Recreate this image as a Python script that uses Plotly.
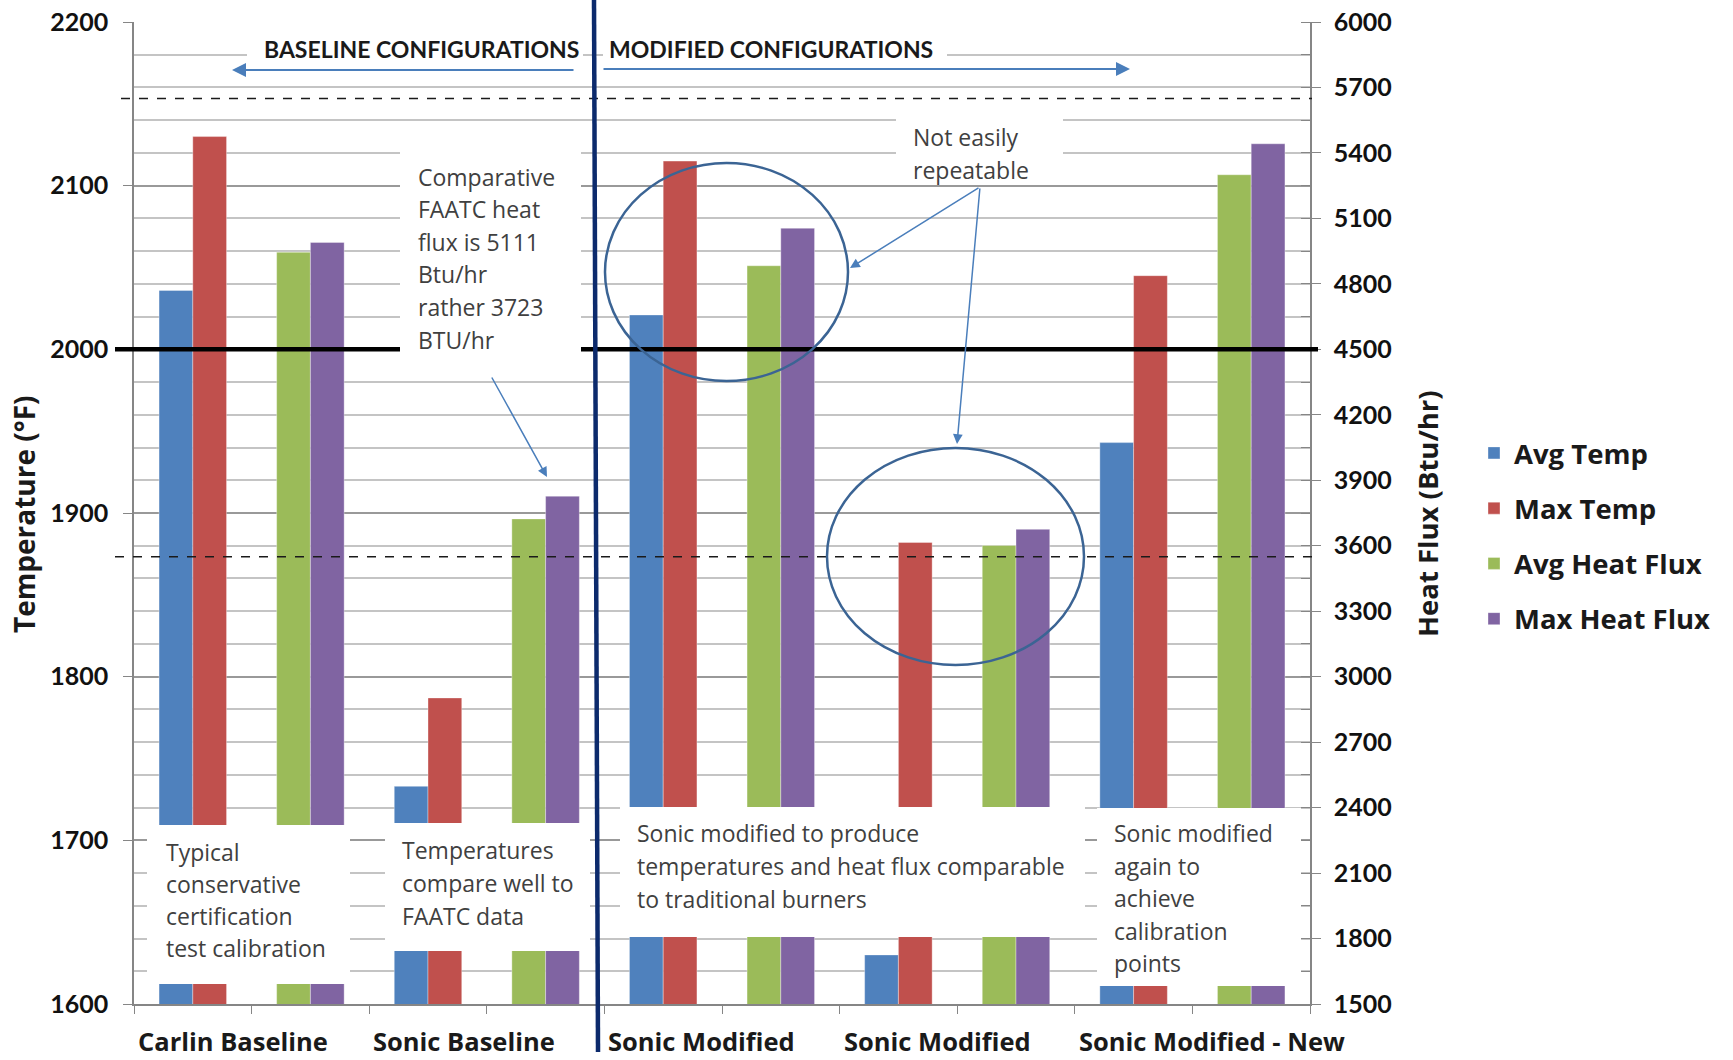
import plotly.graph_objects as go

# ---------------------------------------------------------------- data
categories = ["Carlin Baseline", "Sonic Baseline", "Sonic Modified",
              "Sonic Modified", "Sonic Modified - New"]
avg_temp = [2036, 1733, 2021, 1630, 1943]          # °F
max_temp = [2130, 1787, 2115, 1882, 2045]          # °F
avg_heat_flux = [4945, 3723, 4883, 3601, 5300]     # Btu/hr
max_heat_flux = [4990, 3827, 5055, 3675, 5442]     # Btu/hr

series_names = ["Avg Temp", "Max Temp", "Avg Heat Flux", "Max Heat Flux"]
series_colors = ["#4F81BD", "#C0504D", "#9BBB59", "#8064A2"]

temp_range = [1600, 2200]
flux_range = [1500, 6000]
temp_target = 2000                 # solid black reference line
flux_limits = [3550, 5650]         # dashed reference lines

# ---------------------------------------------------------------- geometry
W, H = 1733, 1060
PL, PR, PT, PB = 134, 1310, 22, 1004   # plot area in pixels
BAR_W = 0.287
FONT = "Lato"
BODY_FONT = "Open Sans"
TEXT_GREY = "#404040"
INK = "#1a1a1a"
ARROW_BLUE = "#4A7EBB"
RING_BLUE = "#3B6494"
NAVY = "#0C2A6C"


def fx(px):
    return (px - PL) / (PR - PL)


def fy(py):
    return (PB - py) / (PB - PT)


n = len(categories)
temp_x = [2 * k for k in range(n)]
flux_x = [2 * k + 1 for k in range(n)]

fig = go.Figure()
for name, color, xs, ys, off, axis in [
    (series_names[0], series_colors[0], temp_x, avg_temp, -BAR_W, "y"),
    (series_names[1], series_colors[1], temp_x, max_temp, 0, "y"),
    (series_names[2], series_colors[2], flux_x, avg_heat_flux, -BAR_W, "y2"),
    (series_names[3], series_colors[3], flux_x, max_heat_flux, 0, "y2"),
]:
    fig.add_trace(go.Bar(
        x=xs, y=ys, name=name, width=BAR_W, offset=off, yaxis=axis,
        marker=dict(color=color, line=dict(color="rgba(255,255,255,0.35)", width=1)),
        legendgroup=name,
    ))

shapes = []
# solid target line and dashed limit lines (drawn over the bars)
shapes.append(dict(type="line", xref="paper", yref="y", layer="above",
                   x0=fx(115), x1=fx(1318), y0=temp_target, y1=temp_target,
                   line=dict(color="black", width=4.5)))
shapes.append(dict(type="line", xref="paper", yref="y2", layer="above",
                   x0=fx(115), x1=fx(1312), y0=flux_limits[0], y1=flux_limits[0],
                   line=dict(color=INK, width=1.5, dash="dash")))
shapes.append(dict(type="line", xref="paper", yref="y2", layer="above",
                   x0=fx(121), x1=fx(1312), y0=flux_limits[1], y1=flux_limits[1],
                   line=dict(color=INK, width=1.5, dash="dash")))

# white text panels (x0, x1, y0, y1 in pixels)
panels = [
    (247, 583, 36, 62),
    (603, 947, 36, 62),
    (400, 581, 128, 362),
    (896, 1063, 105, 178),
    (147, 350, 825, 984),
    (385, 590, 823, 951),
    (620, 1085, 807, 937),
    (1097, 1301, 808, 986),
]
for x0, x1, y0, y1 in panels:
    shapes.append(dict(type="rect", xref="paper", yref="paper", layer="above",
                       x0=fx(x0), x1=fx(x1), y0=fy(y1), y1=fy(y0),
                       fillcolor="white", line=dict(width=0)))

# rings around the questionable results
for x0, x1, y0, y1 in [(605, 848, 163, 381), (827, 1084, 448, 665)]:
    shapes.append(dict(type="circle", xref="paper", yref="paper", layer="above",
                       x0=fx(x0), x1=fx(x1), y0=fy(y1), y1=fy(y0),
                       line=dict(color=RING_BLUE, width=2.5)))

# divider between baseline and modified configurations
shapes.append(dict(type="line", xref="paper", yref="paper", layer="above",
                   x0=fx(594), x1=fx(598), y0=fy(0), y1=fy(1052),
                   line=dict(color=NAVY, width=4.5)))

annotations = []


def text_block(lines, left, first_y, step, size=23, color=TEXT_GREY):
    for i, t in enumerate(lines):
        annotations.append(dict(
            text=t, xref="paper", yref="paper", x=fx(left), y=fy(first_y + i * step),
            xanchor="left", yanchor="middle", showarrow=False,
            font=dict(family=BODY_FONT, size=size, color=color)))


text_block(["Comparative", "FAATC heat", "flux is 5111", "Btu/hr",
            "rather 3723", "BTU/hr"], 416, 177, 32.5)
text_block(["Not easily", "repeatable"], 911, 137, 33)
text_block(["Typical", "conservative", "certification", "test calibration"],
           164, 852, 32)
text_block(["Temperatures", "compare well to", "FAATC data"], 400, 850, 33)
text_block(["Sonic modified to produce", "temperatures and heat flux comparable",
            "to traditional burners"], 635, 833, 33)
text_block(["Sonic modified", "again to", "achieve", "calibration", "points"],
           1112, 833, 32.5)

# section headings
for label, cx in [("BASELINE CONFIGURATIONS", 421), ("MODIFIED CONFIGURATIONS", 771)]:
    annotations.append(dict(text=label, xref="paper", yref="paper",
                            x=fx(cx), y=fy(49), xanchor="center", yanchor="middle",
                            showarrow=False,
                            font=dict(family=FONT, size=23, color=INK, weight="bold")))


def arrow(head, tail, width=1.5, size=1.3):
    annotations.append(dict(
        text="", xref="paper", yref="paper", x=fx(head[0]), y=fy(head[1]),
        ax=tail[0] - head[0], ay=tail[1] - head[1], axref="pixel", ayref="pixel",
        showarrow=True, arrowhead=2, arrowsize=size, arrowwidth=width,
        arrowcolor=ARROW_BLUE, standoff=0, startstandoff=0))


arrow((232, 70), (575, 70), 2, 1.4)
arrow((1130, 69), (602, 69), 2, 1.4)
arrow((547, 477), (491, 376))
arrow((850, 268), (980, 187))
arrow((957, 444), (980, 187))

# category labels beneath each pair of slots
for k, cat in enumerate(categories):
    annotations.append(dict(text=cat, xref="x", yref="paper", x=2 * k - 0.5,
                            y=fy(1041), xanchor="left", yanchor="middle", xshift=2,
                            showarrow=False,
                            font=dict(family=BODY_FONT, size=25.5, color=INK, weight="bold")))

# axis titles
annotations.append(dict(text="Temperature (°F)", xref="paper", yref="paper",
                        x=fx(24), y=fy(514), textangle=-90, showarrow=False,
                        xanchor="center", yanchor="middle",
                        font=dict(family=BODY_FONT, size=28, color=INK, weight="bold")))
annotations.append(dict(text="Heat Flux (Btu/hr)", xref="paper", yref="paper",
                        x=fx(1427), y=fy(514), textangle=-90, showarrow=False,
                        xanchor="center", yanchor="middle",
                        font=dict(family=BODY_FONT, size=27.5, color=INK, weight="bold")))

axis_grey = "#868686"
fig.update_layout(
    width=W, height=H,
    margin=dict(l=PL, r=W - PR, t=PT, b=H - PB, autoexpand=False),
    paper_bgcolor="white", plot_bgcolor="white",
    barmode="overlay",
    font=dict(family=FONT, color=INK),
    showlegend=True,
    legend=dict(x=fx(1474), y=fy(536), xanchor="left", yanchor="middle",
                traceorder="grouped", tracegroupgap=16.5,
                font=dict(family=BODY_FONT, size=27.5, color=INK, weight="bold"),
                bgcolor="rgba(0,0,0,0)"),
    xaxis=dict(range=[-0.5, 2 * n - 0.5], showgrid=False, zeroline=False,
               automargin=False,
               showline=True, linecolor=axis_grey, linewidth=1.5,
               tickvals=[i - 0.5 for i in range(2 * n + 1)], ticks="outside",
               ticklen=8, tickcolor=axis_grey, showticklabels=False),
    yaxis=dict(range=temp_range, dtick=100, tick0=temp_range[0], automargin=False,
               showline=True, linecolor=axis_grey, linewidth=1.5,
               ticks="outside", ticklen=9, tickcolor=axis_grey,
               showgrid=True, gridcolor="#999999", gridwidth=1.5,
               minor=dict(dtick=20, showgrid=True, gridcolor="#C4C4C4", gridwidth=1.5),
               zeroline=False, ticklabelstandoff=10,
               tickfont=dict(family=FONT, size=25, color="#111111", weight="bold")),
    yaxis2=dict(range=flux_range, dtick=300, tick0=flux_range[0], automargin=False,
                overlaying="y", side="right", showgrid=False, zeroline=False,
                showline=True, linecolor=axis_grey, linewidth=1.5,
                ticks="outside", ticklen=9, tickcolor=axis_grey,
                minor=dict(dtick=150, ticks="inside", ticklen=9, tickcolor=axis_grey),
                ticklabelstandoff=8,
                tickfont=dict(family=FONT, size=25, color="#111111", weight="bold")),
    shapes=shapes,
    annotations=annotations,
)

fig.write_html("out.html")
